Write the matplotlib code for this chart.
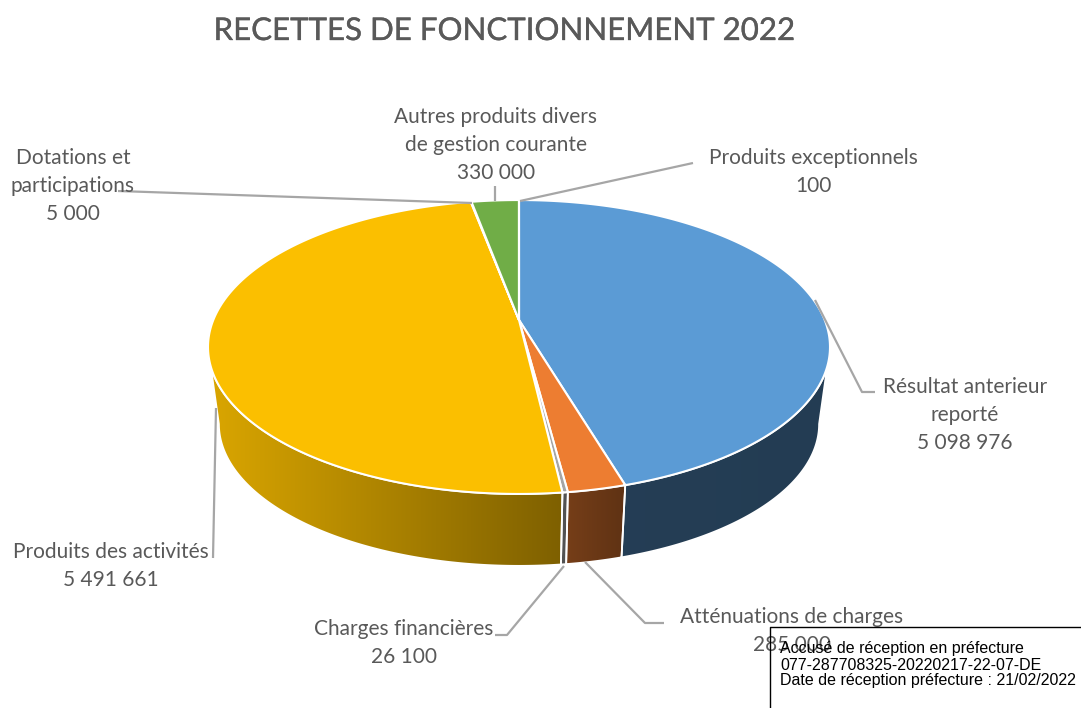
import matplotlib
matplotlib.use("Agg")
import matplotlib.pyplot as plt
import matplotlib.patheffects as pe
from matplotlib.patches import Polygon
from matplotlib.colors import to_rgb
import numpy as np

# Donnees
categories = ["Résultat anterieur reporté", "Atténuations de charges", "Charges financières",
              "Produits des activités", "Dotations et participations",
              "Autres produits divers de gestion courante", "Produits exceptionnels"]
valeurs = [5098976, 285000, 26100, 5491661, 5000, 330000, 100]
couleurs = ["#5B9BD5", "#ED7D31", "#A5A5A5", "#FBBF00", "#4472C4", "#70AD47", "#255E91"]

titre = "RECETTES DE FONCTIONNEMENT 2022"
etiquettes = ["Résultat anterieur\nreporté\n5 098 976", "Atténuations de charges\n285 000",
              "Charges financières\n26 100", "Produits des activités\n5 491 661",
              "Dotations et\nparticipations\n5 000",
              "Autres produits divers\nde gestion courante\n330 000",
              "Produits exceptionnels\n100"]
tampon = ["Accusé de réception en préfecture", "077-287708325-20220217-22-07-DE",
          "Date de réception préfecture : 21/02/2022"]

# Geometrie de la perspective (en pixels)
CX, CY = 519, 320
K, A, B = 0.1837, 142, 305.7
ECHELLE_BAS, DECALAGE_BAS = 0.965, 78


def projette(t, bas=False):
    x = B * np.sin(t) / (1 + K * np.cos(t))
    y = -A * np.cos(t) / (1 + K * np.cos(t))
    if bas:
        return CX + ECHELLE_BAS * x, CY + DECALAGE_BAS + ECHELLE_BAS * y
    return CX + x, CY + y


fig = plt.figure(figsize=(10.81, 7.08), dpi=100)
ax = fig.add_axes([0, 0, 1, 1])
ax.set_xlim(0, 1081)
ax.set_ylim(708, 0)
ax.axis("off")

fractions = np.array(valeurs) / sum(valeurs)
bords = np.concatenate([[0], np.cumsum(fractions)]) * 2 * np.pi

# Parois laterales (degrade horizontal)
t_droite = np.arccos(-K)
t_gauche = 2 * np.pi - t_droite
for i, couleur in enumerate(couleurs):
    t0 = max(bords[i], t_droite)
    t1 = min(bords[i + 1], t_gauche)
    if t1 <= t0:
        continue
    t = np.linspace(t0, t1, 150)
    xh, yh = projette(t)
    xb, yb = projette(t[::-1], bas=True)
    pts = np.column_stack([np.r_[xh, xb], np.r_[yh, yb]])
    x0, x1 = pts[:, 0].min(), pts[:, 0].max()
    xs = np.linspace(x0, x1, 200)
    facteur = np.interp(xs, [208, 565, 625, 830], [0.87, 0.50, 0.40, 0.39])
    img = facteur[None, :, None] * np.array(to_rgb(couleur))[None, None, :]
    im = ax.imshow(img, extent=(x0, x1, pts[:, 1].max(), pts[:, 1].min()), aspect="auto", zorder=1)
    poly = Polygon(pts, closed=True, facecolor="none", edgecolor="white", linewidth=1.3, zorder=2)
    ax.add_patch(poly)
    im.set_clip_path(poly)
ax.set_xlim(0, 1081)
ax.set_ylim(708, 0)

# Dessus du camembert
for i, couleur in enumerate(couleurs):
    t = np.linspace(bords[i], bords[i + 1], 300)
    x, y = projette(t)
    pts = np.column_stack([np.r_[CX, x], np.r_[CY, y]])
    ax.add_patch(Polygon(pts, closed=True, facecolor=couleur, edgecolor="white",
                         linewidth=1.5, joinstyle="round", zorder=3))

# Lignes de rappel
gris = "#A6A6A6"
rappels = [([815, 862, 875], [300, 392, 392]),
           ([585, 645, 664], [562, 623, 623]),
           ([564, 507, 495], [566, 635, 635]),
           ([216, 213], [408, 558]),
           ([118, 472], [191, 203]),
           ([495, 495], [186, 201]),
           ([693, 520], [163, 201])]
for xs, ys in rappels:
    ax.plot(xs, ys, color=gris, linewidth=1.6, zorder=4, solid_capstyle="butt")

# Etiquettes
pos_etiquettes = [(965, 415), (792, 631), (404, 643), (111, 566), (73, 186), (496, 145), (813, 172)]
for txt, (x, y) in zip(etiquettes, pos_etiquettes):
    ax.text(x, y, txt, family="Lato", fontsize=15, color="#595959", ha="center", va="center",
            linespacing=1.5, zorder=5)

ax.text(505, 31, titre, family="Lato", fontsize=22.5, color="#595959", ha="center", va="center",
        zorder=5, path_effects=[pe.withStroke(linewidth=0.25, foreground="#595959")])

# Tampon de reception
ax.plot([1081, 770, 770], [627, 627, 708], color="black", linewidth=1, zorder=6)
for ligne, y in zip(tampon, [649, 665, 681]):
    ax.text(780, y, ligne, family="Liberation Sans", fontsize=11.5, color="black",
            ha="left", va="center", zorder=7)

fig.savefig("out.png", dpi=100)
